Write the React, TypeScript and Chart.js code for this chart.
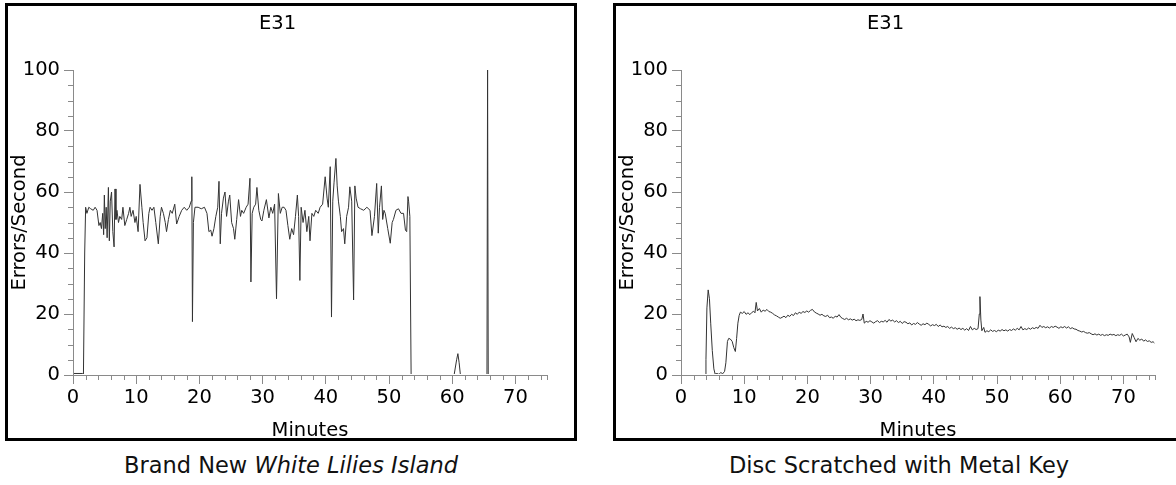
import React, { useEffect, useRef } from 'react';
import { Chart, registerables } from 'chart.js';

Chart.register(...registerables);

const chartTitle = 'E31';
const xAxisTitle = 'Minutes';
const yAxisTitle = 'Errors/Second';
const leftCaptionPlain = 'Brand New ';
const leftCaptionItalic = 'White Lilies Island';
const rightCaption = 'Disc Scratched with Metal Key';

const xMinorTicks = [2, 4, 6, 8, 12, 14, 16, 18, 22, 24, 26, 28, 32, 34, 36, 38, 42, 44, 46, 48, 52, 54, 56, 58, 62, 64, 66, 68, 72, 74, 75];
const yMinorTicks = [5, 10, 15, 25, 30, 35, 45, 50, 55, 65, 70, 75, 85, 90, 95];

const leftMinutes = [
  0, 1.5, 1.65, 1.85, 2.0, 2.2, 2.5, 2.8, 3.2, 3.5, 3.8, 4.1, 4.3, 4.5, 4.7, 4.85, 4.96, 5.1, 5.25, 5.4,
  5.6, 5.75, 5.9, 6.1, 6.3, 6.5, 6.65, 6.8, 6.95, 7.2, 7.4, 7.7, 7.9, 8.2, 8.5, 8.8, 9.0, 9.2, 9.5, 9.8,
  10.0, 10.3, 10.6, 10.9, 11.1, 11.4, 11.7, 12.0, 12.2, 12.5, 12.8, 13.1, 13.5, 13.8, 14.0, 14.3, 14.6, 14.8, 15.1, 15.4,
  15.7, 16.1, 16.4, 16.8, 17.2, 17.6, 18.0, 18.4, 18.7, 18.8, 18.9, 19.05, 19.3, 19.8, 20.3, 20.8, 21.2, 21.5, 21.8, 22.0,
  22.3, 22.6, 22.9, 23.1, 23.3, 23.5, 23.8, 24.05, 24.3, 24.6, 24.8, 25.1, 25.4, 25.6, 25.9, 26.2, 26.5, 26.7, 27.0, 27.4,
  27.7, 28.0, 28.15, 28.35, 28.6, 28.9, 29.1, 29.4, 29.7, 29.9, 30.2, 30.6, 31.0, 31.3, 31.6, 31.9, 32.2, 32.5, 32.8, 33.1,
  33.4, 33.7, 34.0, 34.3, 34.6, 34.9, 35.2, 35.5, 35.7, 35.9, 36.1, 36.4, 36.7, 37.0, 37.3, 37.5, 37.8, 38.1, 38.4, 38.8,
  39.1, 39.5, 39.9, 40.2, 40.4, 40.7, 40.9, 41.1, 41.3, 41.6, 41.8, 42.0, 42.3, 42.5, 42.8, 43.0, 43.3, 43.6, 43.8, 44.1,
  44.4, 44.6, 44.8, 45.1, 45.5, 46.0, 46.5, 47.0, 47.3, 47.7, 48.05, 48.3, 48.5, 48.8, 49.0, 49.2, 49.4, 49.8, 50.2, 50.5,
  50.7, 51.1, 51.5, 51.9, 52.3, 52.6, 52.8, 53.0, 53.1, 53.3, 53.5, 60.3, 60.7, 60.9, 61.1, 61.3, 65.5, 65.6, 65.7, 66.5,
];
const leftErrors = [
  0.5, 0.5, 0, 40, 55, 53, 55, 54.5, 54, 55, 54, 49, 50, 48, 53, 46, 59, 48, 55, 45,
  61.5, 44, 57, 60, 47, 42, 61, 51, 54, 50, 52, 51, 55, 49, 51, 53, 55, 52, 54, 50,
  52, 47, 62.5, 55, 50, 44, 45, 53, 55, 54, 55, 50, 43, 52, 55, 53, 50, 47, 51, 54,
  53, 56, 49.5, 52, 54, 55, 54, 55, 57, 65, 17.5, 50, 55, 55, 54.5, 55, 53, 47, 47.5, 45.5,
  48, 52, 55, 63.5, 43, 53, 58, 60, 52, 57, 59, 50, 48, 44.5, 51, 57.5, 52, 54, 53, 55,
  56, 64.5, 30.5, 53, 55, 56, 61.5, 54, 51, 50.5, 54, 57.5, 51.5, 55, 53, 56, 25, 59.5, 53, 55,
  55, 54, 49, 44.5, 48, 46, 52, 59, 52, 31, 55, 50, 54, 47, 52, 44, 53, 52, 54, 53,
  55, 56, 65, 58, 55, 68.3, 19, 57, 63, 71, 62, 57, 52, 47, 48, 43, 52, 55, 61.7, 57,
  24.6, 62, 58, 55, 54.5, 54, 55, 54, 45.7, 52, 62.8, 46.5, 55, 62, 51, 54, 53, 48, 43.2, 50,
  51, 54, 54.5, 53, 53, 47.5, 47, 58.5, 57, 52, 0, 0, 5, 7, 4, 0, 0, 100, 0, 0,
];

const rightMinutes = [
  3.8, 3.95, 4.1, 4.3, 4.5, 4.7, 4.95, 5.2, 5.4, 5.7, 6.0, 6.3, 6.6, 6.9, 7.1, 7.35, 7.55, 7.8, 8.1, 8.35,
  8.6, 8.8, 9.0, 9.2, 9.4, 9.7, 10.0, 10.3, 10.6, 10.9, 11.2, 11.5, 11.7, 11.9, 12.1, 12.4, 12.7, 13.0, 13.3, 13.6,
  13.9, 14.2, 14.5, 14.8, 15.1, 15.4, 15.7, 16.0, 16.3, 16.6, 16.9, 17.2, 17.5, 17.8, 18.1, 18.4, 18.7, 19.0, 19.3, 19.6,
  19.9, 20.2, 20.5, 20.8, 21.1, 21.4, 21.7, 22.0, 22.3, 22.6, 22.9, 23.2, 23.5, 23.8, 24.1, 24.4, 24.7, 25.0, 25.3, 25.6,
  25.9, 26.2, 26.5, 26.8, 27.1, 27.4, 27.7, 28.0, 28.3, 28.6, 28.8, 29.0, 29.3, 29.6, 29.9, 30.2, 30.5, 30.8, 31.1, 31.4,
  31.7, 32.0, 32.3, 32.6, 32.9, 33.2, 33.5, 33.8, 34.1, 34.4, 34.7, 35.0, 35.3, 35.6, 35.9, 36.2, 36.5, 36.8, 37.1, 37.4,
  37.7, 38.0, 38.3, 38.6, 38.9, 39.2, 39.5, 39.8, 40.1, 40.4, 40.7, 41.0, 41.3, 41.6, 41.9, 42.2, 42.5, 42.8, 43.1, 43.4,
  43.7, 44.0, 44.3, 44.6, 44.9, 45.2, 45.5, 45.8, 46.1, 46.4, 46.7, 47.0, 47.2, 47.3, 47.45, 47.6, 47.9, 48.1, 48.4, 48.7,
  49.0, 49.3, 49.6, 49.9, 50.2, 50.5, 50.8, 51.1, 51.4, 51.7, 52.0, 52.3, 52.6, 52.9, 53.2, 53.5, 53.8, 54.1, 54.4, 54.7,
  55.0, 55.3, 55.6, 55.9, 56.2, 56.5, 56.8, 57.1, 57.4, 57.7, 58.0, 58.3, 58.6, 58.9, 59.2, 59.5, 59.8, 60.1, 60.4, 60.7,
  61.0, 61.3, 61.6, 61.9, 62.2, 62.5, 62.8, 63.1, 63.4, 63.7, 64.0, 64.3, 64.6, 64.9, 65.2, 65.5, 65.8, 66.1, 66.4, 66.7,
  67.0, 67.3, 67.6, 67.9, 68.2, 68.5, 68.8, 69.1, 69.4, 69.7, 70.0, 70.3, 70.6, 70.9, 71.1, 71.4, 71.7, 72.0, 72.3, 72.6,
  72.9, 73.2, 73.5, 73.8, 74.1, 74.4, 74.7, 74.9,
];
const rightErrors = [
  0, 5, 22, 27.9, 25, 17, 8, 2, 0.3, 0.5, 0.2, 0.8, 0.4, 1.2, 4, 11, 12, 11.8, 11, 9,
  7.7, 12, 17, 19.5, 20.6, 20.2, 20.8, 19.9, 20.4, 19.8, 20.5, 20.9, 20.4, 23.8, 21, 21.8, 20.6, 21.3, 20.9, 21.5,
  20.8, 20.6, 20.2, 19.7, 19.4, 19.0, 18.6, 18.9, 19.3, 18.8, 19.6, 19.2, 19.9, 19.5, 20.4, 19.9, 20.6, 20.2, 20.8, 20.5,
  21.0, 20.6, 21.2, 21.5, 20.7, 20.3, 20.0, 19.6, 19.9, 19.4, 19.2, 19.6, 18.8, 19.0, 18.6, 19.3, 19.0, 19.8, 18.9, 18.5,
  18.2, 18.6, 18.1, 18.4, 18.0, 18.3, 17.8, 18.1, 17.9, 18.2, 20.0, 17.0, 17.6, 17.3, 17.8, 17.4, 17.0, 17.5, 17.8, 17.2,
  17.6, 17.4, 17.9, 17.3, 18.2, 17.7, 18.0, 17.4, 17.8, 17.2, 17.6, 16.9, 17.5, 17.3, 16.8, 17.1, 16.4, 16.9, 16.6, 17.2,
  16.7, 16.3, 16.8, 16.5, 17.0, 16.6, 16.1, 16.5, 16.2, 16.6, 15.9, 16.4, 15.8, 16.0, 15.6, 15.9, 15.3, 15.7, 15.2, 15.5,
  15.0, 15.4, 14.9, 15.3, 14.7, 15.2, 14.6, 15.9, 14.8, 15.3, 14.9, 15.2, 20, 25.7, 18, 14.5, 15.6, 14.0, 14.5, 14.2,
  14.8, 14.3, 14.6, 14.2, 14.7, 14.4, 14.9, 14.5, 14.8, 14.4, 14.9, 14.6, 15.1, 14.7, 15.3, 14.8, 15.9, 14.8, 15.2, 14.9,
  15.4, 15.0, 15.5, 15.2, 15.6, 15.3, 16.3, 15.6, 15.9, 15.5, 15.8, 15.4, 15.9, 15.6, 16.0, 15.7, 15.3, 15.8, 15.5, 15.9,
  15.4, 15.8, 15.2, 15.5, 15.1, 15.0, 14.6, 14.4, 14.1, 14.3, 13.9, 13.7, 13.9, 13.5, 13.2, 13.5, 13.1, 13.4, 13.0, 13.3,
  12.9, 13.2, 13.0, 13.4, 13.1, 13.3, 12.9, 13.2, 13.0, 13.4, 12.8, 13.1, 13.4, 12.5, 10.7, 13.6, 12.3, 10.9, 12.0, 11.4,
  11.8, 11.1, 11.5, 11.0, 11.2, 10.7, 10.9, 10.5,
];

const FONT = "'DejaVu Sans', sans-serif";
const FONT_SIZE = 19.5;
const CAPTION_FONT = "'DejaVu Sans', sans-serif";
const AXIS_COLOR = '#8a8a8a';
const LINE_COLOR = '#333333';

const minorTickPlugin = {
  id: 'minorTicks',
  afterDraw(chart: any) {
    const ctx = chart.ctx;
    const xs = chart.scales.x;
    const ys = chart.scales.y;
    ctx.save();
    ctx.strokeStyle = AXIS_COLOR;
    ctx.lineWidth = 1;
    ctx.beginPath();
    for (const v of xMinorTicks) {
      const px = Math.round(xs.getPixelForValue(v)) + 0.5;
      ctx.moveTo(px, ys.bottom);
      ctx.lineTo(px, ys.bottom + 5);
    }
    for (const v of yMinorTicks) {
      const py = Math.round(ys.getPixelForValue(v)) + 0.5;
      ctx.moveTo(xs.left, py);
      ctx.lineTo(xs.left - 5, py);
    }
    ctx.stroke();
    ctx.restore();
  },
};

function ErrorChart({ minutes, errors }: { minutes: number[]; errors: number[] }) {
  const ref = useRef<HTMLCanvasElement | null>(null);
  useEffect(() => {
    if (!ref.current) return;
    const points = minutes.map((m, i) => ({ x: m, y: errors[i] }));
    const chart = new Chart(ref.current, {
      type: 'line',
      data: {
        datasets: [
          {
            data: points,
            borderColor: LINE_COLOR,
            borderWidth: 1,
            pointRadius: 0,
            tension: 0,
            fill: false,
            clip: { left: 5, top: 5, right: 5, bottom: -1 },
          },
        ],
      },
      options: {
        animation: false,
        responsive: false,
        maintainAspectRatio: false,
        layout: { padding: { left: 0, right: 27, top: 0, bottom: 0 } },
        plugins: {
          legend: { display: false },
          tooltip: { enabled: false },
          title: {
            display: true,
            text: chartTitle,
            color: '#000',
            font: { family: FONT, size: FONT_SIZE, weight: 'normal', lineHeight: 1.2 },
            padding: { top: 6, bottom: 34.6 },
          },
        },
        scales: {
          x: {
            type: 'linear',
            min: 0,
            max: 75,
            afterFit: (s: any) => {
              s.height = 63;
            },
            border: { display: true, color: AXIS_COLOR, width: 1, z: 1 },
            grid: { drawOnChartArea: false, drawTicks: true, tickLength: 9, tickColor: AXIS_COLOR },
            ticks: {
              stepSize: 10,
              includeBounds: false,
              autoSkip: false,
              maxRotation: 0,
              color: '#000',
              padding: 2,
              font: { family: FONT, size: FONT_SIZE, lineHeight: 1.2 },
            },
            title: {
              display: true,
              text: xAxisTitle,
              color: '#000',
              font: { family: FONT, size: FONT_SIZE, lineHeight: 1 },
              padding: { top: 0, bottom: -3 },
            },
          },
          y: {
            type: 'linear',
            min: 0,
            max: 100,
            afterFit: (s: any) => {
              s.width = 65;
            },
            border: { display: true, color: AXIS_COLOR, width: 1, z: 1 },
            grid: { drawOnChartArea: false, drawTicks: true, tickLength: 9, tickColor: AXIS_COLOR },
            ticks: {
              stepSize: 20,
              autoSkip: false,
              color: '#000',
              padding: 4,
              font: { family: FONT, size: FONT_SIZE, lineHeight: 1.2 },
            },
            title: {
              display: true,
              text: yAxisTitle,
              color: '#000',
              font: { family: FONT, size: FONT_SIZE, lineHeight: 1.2 },
              padding: { top: 0, bottom: 0 },
            },
          },
        },
      },
      plugins: [minorTickPlugin],
    } as any);
    return () => chart.destroy();
  }, [minutes, errors]);
  return <canvas ref={ref} width={566} height={432} style={{ display: 'block' }} />;
}

const panelStyle = (left: number): React.CSSProperties => ({
  position: 'absolute',
  left,
  top: 3,
  width: 566,
  height: 432,
  border: '3px solid #000',
  background: '#fff',
});

const captionStyle = (left: number): React.CSSProperties => ({
  position: 'absolute',
  left,
  top: 453,
  width: 572,
  textAlign: 'center',
  fontFamily: CAPTION_FONT,
  fontSize: 22.5,
  lineHeight: '24px',
  color: '#111',
  whiteSpace: 'nowrap',
});

export default function App() {
  return (
    <div
      style={{
        position: 'absolute',
        left: 0,
        top: 0,
        width: 1176,
        height: 485,
        overflow: 'hidden',
        background: '#fff',
      }}
    >
      <div style={panelStyle(5)}>
        <ErrorChart minutes={leftMinutes} errors={leftErrors} />
      </div>
      <div style={panelStyle(613)}>
        <ErrorChart minutes={rightMinutes} errors={rightErrors} />
      </div>
      <div style={captionStyle(5)}>
        {leftCaptionPlain}
        <i>{leftCaptionItalic}</i>
      </div>
      <div style={captionStyle(613)}>{rightCaption}</div>
    </div>
  );
}
